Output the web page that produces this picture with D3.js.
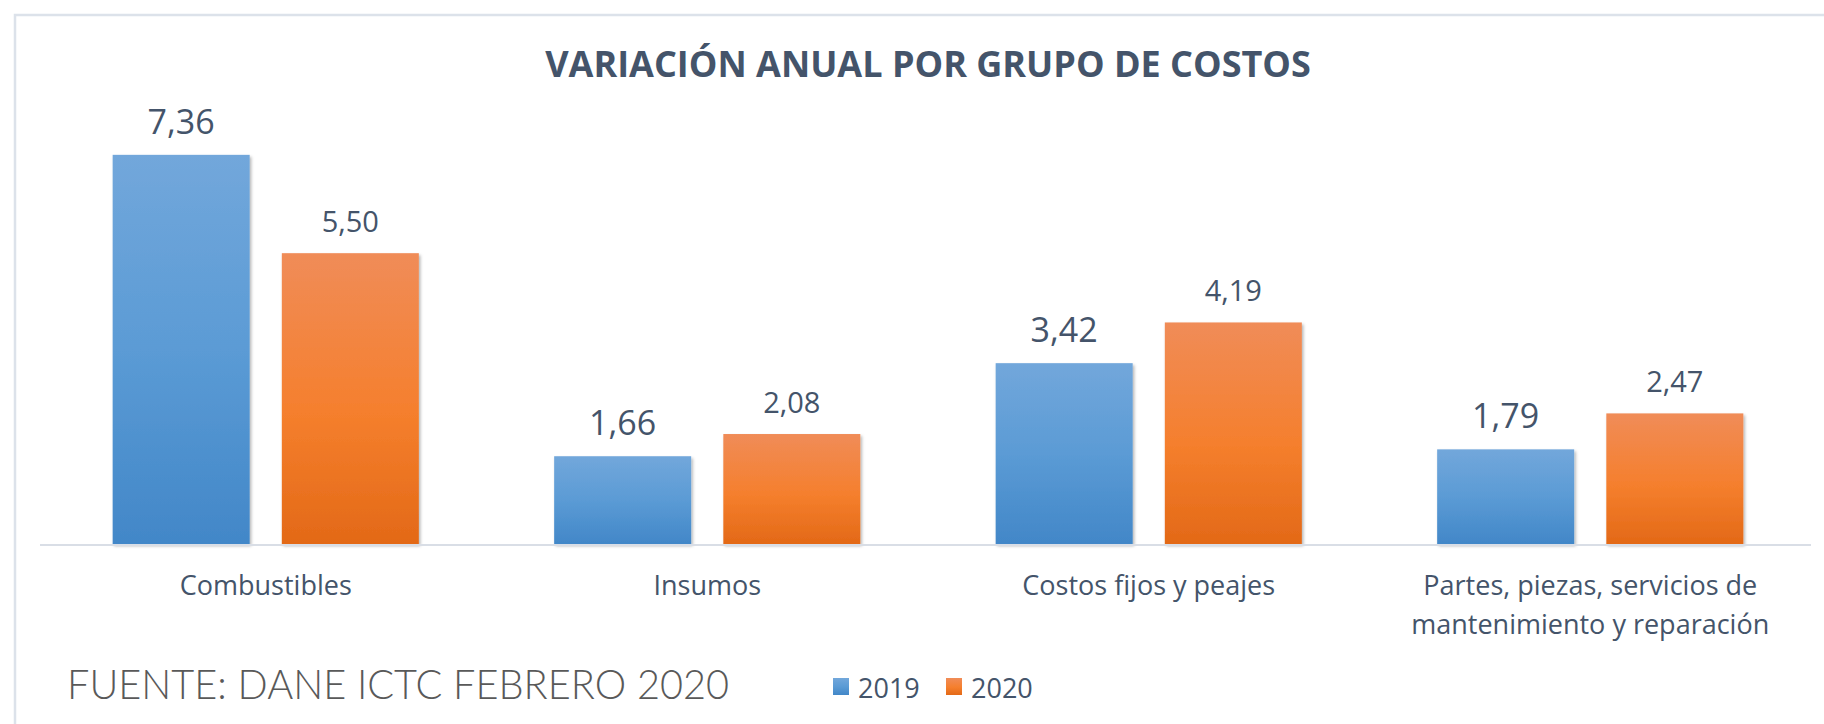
<!DOCTYPE html>
<html>
<head>
<meta charset="utf-8">
<script src="https://cdn.jsdelivr.net/npm/d3@7"></script>
<style>
	body { margin: 0; background: #fff; }
	text { font-family: 'Open Sans', 'Noto Sans', sans-serif; }
</style>
</head>
<body>
<script>

var categories = ['Combustibles', 'Insumos', 'Costos fijos y peajes', 'Partes, piezas, servicios de mantenimiento y reparación'];
var series = ['2019', '2020'];
var values2019 = [7.36, 1.66, 3.42, 1.79];
var values2020 = [5.50, 2.08, 4.19, 2.47];
var catLines = [['Combustibles'], ['Insumos'], ['Costos fijos y peajes'], ['Partes, piezas, servicios de', 'mantenimiento y reparación']];

var width = 1824,
	height = 724;

var textColor = '#44546A';

var svg = d3.select('body').append('svg')
			.attr('width', width)
			.attr('height', height)

var defs = svg.append('defs');

function grad(id, stops){
	var g = defs.append('linearGradient').attr('id', id)
		.attr('x1', 0).attr('y1', 0).attr('x2', 0).attr('y2', 1);
	stops.forEach(function(s){
		g.append('stop').attr('offset', s[0]).attr('stop-color', s[1]);
	});
}
grad('g2019', [[0, '#72A7DB'], [0.5, '#5B9BD5'], [1, '#4287C8']]);
grad('g2020', [[0, '#F08C58'], [0.55, '#F57F2D'], [1, '#E36917']]);

defs.append('filter').attr('id', 'shadow')
	.attr('x', '-10%').attr('y', '-10%').attr('width', '130%').attr('height', '130%')
	.append('feDropShadow')
	.attr('dx', 1.5).attr('dy', 2).attr('stdDeviation', 1.5)
	.attr('flood-color', '#000').attr('flood-opacity', 0.3);

// frame
svg.append('rect')
	.attr('x', 15).attr('y', 15)
	.attr('width', width + 20).attr('height', height + 20)
	.attr('fill', 'none')
	.attr('stroke', '#DCE2EA')
	.attr('stroke-width', 2.5);

var x0 = d3.scaleBand()
			.domain(categories)
			.range([45, 1811]);

var x1 = d3.scaleBand()
			.domain(series)
			.range([0, x0.bandwidth()])
			.paddingInner(0.19)
			.paddingOuter(0.4);

var y = d3.scaleLinear()
			.domain([0, 8])
			.range([544, 121]);

var data = categories.map(function(c, i){
	return {cat: c, vals: [
		{s: '2019', v: values2019[i]},
		{s: '2020', v: values2020[i]}
	]};
});

svg.append('text')
	.attr('x', 928).attr('y', 77)
	.attr('text-anchor', 'middle')
	.attr('fill', textColor)
	.style('font-size', '36px')
	.style('font-weight', 'bold')
	.text('VARIACIÓN ANUAL POR GRUPO DE COSTOS');

var groups = svg.selectAll('.grp')
	.data(data)
	.enter().append('g').classed('grp', true)
	.attr('transform', function(d){ return 'translate(' + x0(d.cat) + ',0)'; });

groups.selectAll('rect')
	.data(function(d){ return d.vals; })
	.enter().append('rect')
	.attr('x', function(d){ return x1(d.s); })
	.attr('y', function(d){ return y(d.v); })
	.attr('width', x1.bandwidth())
	.attr('height', function(d){ return y(0) - y(d.v); })
	.attr('fill', function(d){ return 'url(#g' + d.s + ')'; })
	.attr('filter', 'url(#shadow)');

groups.selectAll('.lbl')
	.data(function(d){ return d.vals; })
	.enter().append('text').classed('lbl', true)
	.attr('x', function(d){ return x1(d.s) + x1.bandwidth() / 2; })
	.attr('y', function(d){ return y(d.v) - 21; })
	.attr('text-anchor', 'middle')
	.attr('fill', textColor)
	.style('font-size', function(d){ return d.s == '2019' ? '34px' : '29px'; })
	.text(function(d){ return d3.format('.2f')(d.v).replace('.', ','); });

// baseline
svg.append('line')
	.attr('x1', 40).attr('x2', 1811)
	.attr('y1', y(0) + 1).attr('y2', y(0) + 1)
	.attr('stroke', '#D9DEE6')
	.attr('stroke-width', 2);

// category labels
categories.forEach(function(c, i){
	var t = svg.append('text')
		.attr('x', x0(c) + x0.bandwidth() / 2)
		.attr('y', 595)
		.attr('text-anchor', 'middle')
		.attr('fill', textColor)
		.style('font-size', '27px');
	catLines[i].forEach(function(line, j){
		t.append('tspan')
			.attr('x', x0(c) + x0.bandwidth() / 2)
			.attr('dy', j == 0 ? 0 : 39)
			.text(line);
	});
});

// source note
svg.append('text')
	.attr('x', 67).attr('y', 699)
	.attr('fill', '#595959')
	.attr('textLength', 662)
	.attr('lengthAdjust', 'spacingAndGlyphs')
	.style('font-family', 'Lato, sans-serif')
	.style('font-weight', 300)
	.style('font-size', '42px')
	.text('FUENTE: DANE ICTC FEBRERO 2020');

// legend
var legX = [833, 946];
var legend = svg.selectAll('.leg')
	.data(series)
	.enter().append('g').classed('leg', true)
	.attr('transform', function(d, i){ return 'translate(' + legX[i] + ',678)'; });

legend.append('rect')
	.attr('width', 16).attr('height', 17)
	.attr('fill', function(d){ return 'url(#g' + d + ')'; });

legend.append('text')
	.attr('x', 25).attr('y', 20)
	.attr('fill', textColor)
	.style('font-size', '27px')
	.text(function(d){ return d; });

</script>
</body>
</html>
